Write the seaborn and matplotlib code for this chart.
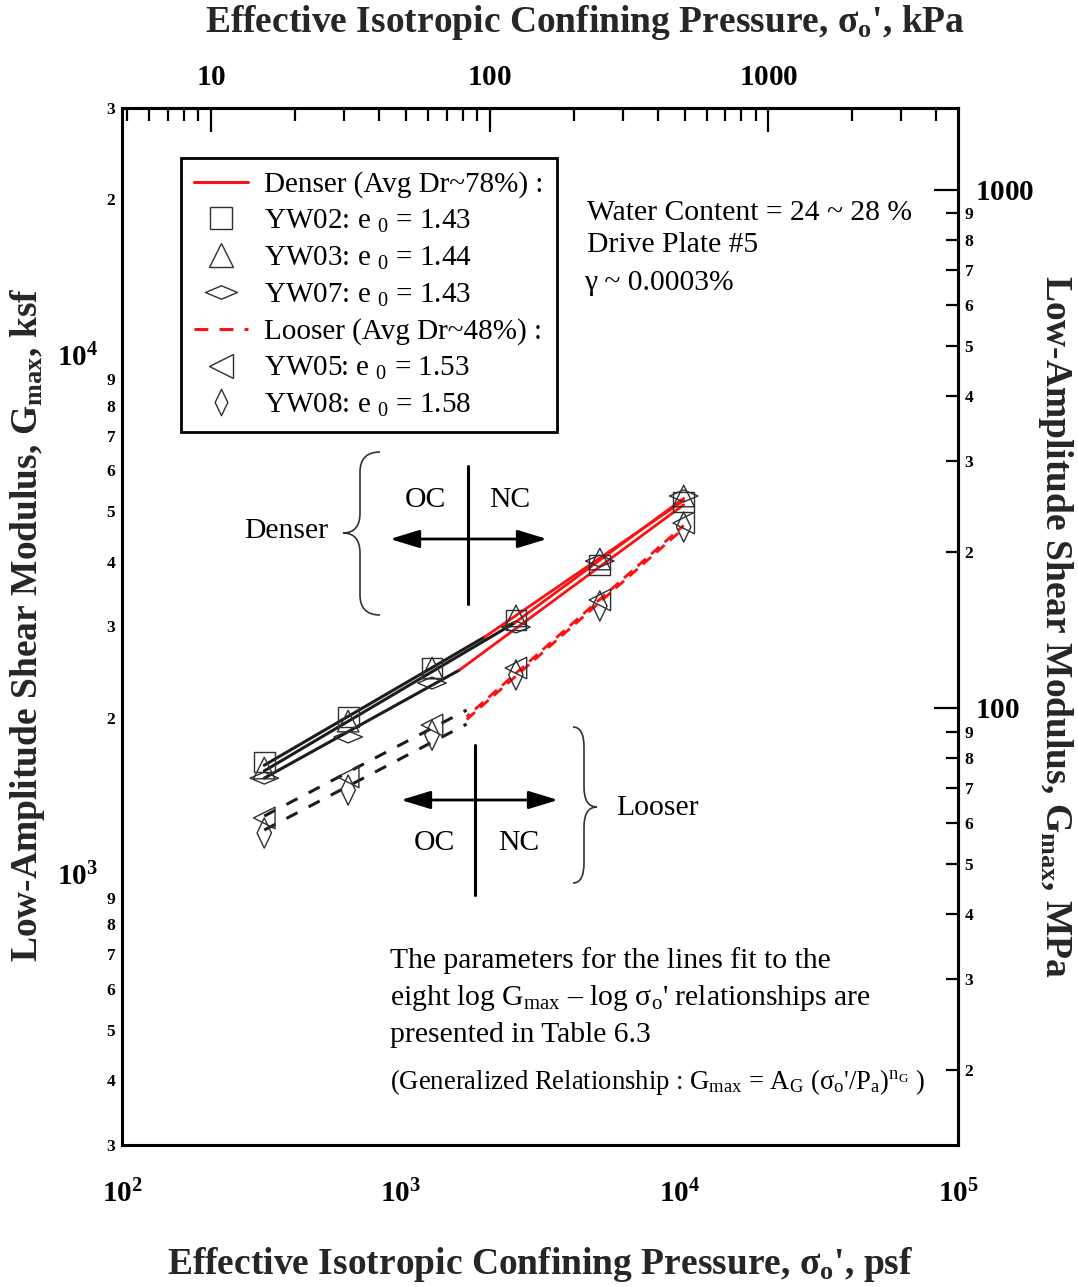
import matplotlib
matplotlib.use("Agg")
import numpy as np
import pandas as pd
import matplotlib.pyplot as plt
import seaborn as sns
from matplotlib.lines import Line2D
from matplotlib.path import Path
from matplotlib.patches import PathPatch
from matplotlib.ticker import FixedLocator, FixedFormatter, NullFormatter

# ---------------------------------------------------------------- data
# Effective isotropic confining pressure at each test stage (psf)
pressure_psf = [324, 648, 1296, 2592, 5184, 10368]

# Measured low-amplitude shear modulus, Gmax (ksf)
gmax_yw02 = [1644, 2007, 2495, 3087, 3941, 5215]
gmax_yw03 = [1600, 1971, 2495, 3144, 4048, 5356]
gmax_yw07 = [1530, 1837, 2334, 2993, 4012, 5356]
gmax_yw05 = [1282, 1538, 1937, 2495, 3375, 4750]
gmax_yw08 = [1199, 1451, 1852, 2419, 3286, 4667]

specimens = ["YW02", "YW03", "YW07", "YW05", "YW08"]
void_ratio = ["1.43", "1.44", "1.43", "1.53", "1.58"]
density_group = ["Denser", "Denser", "Denser", "Looser", "Looser"]
gmax_values = [gmax_yw02, gmax_yw03, gmax_yw07, gmax_yw05, gmax_yw08]

# Fitted log Gmax - log sigma lines: OC branch up to the break pressure, NC branch after it
fit_p_start = 324
fit_p_end = 10368
fit_p_break = [2000, 2560, 1626, 1725, 1725]
fit_oc_start = [1620, 1580, 1530, 1293, 1215]
fit_oc_end = [2863, 3047, 2473, 2070, 1945]
fit_nc_start = [2863, 3047, 2473, 2010, 1985]
fit_nc_end = [5250, 5300, 5150, 4700, 4640]

# Axis ticks
x_major = [1e2, 1e3, 1e4, 1e5]
x_major_labels = ["2", "3", "4", "5"]
y_major = [1e3, 1e4]
y_major_labels = ["3", "4"]
y_minor = [300, 400, 500, 600, 700, 800, 900,
           2000, 3000, 4000, 5000, 6000, 7000, 8000, 9000, 20000, 30000]
y_minor_labels = ["3", "4", "5", "6", "7", "8", "9",
                  "2", "3", "4", "5", "6", "7", "8", "9", "2", "3"]
kpa_major = [10, 100, 1000]
kpa_major_labels = ["10", "100", "1000"]
kpa_minor = [5, 6, 7, 8, 9, 20, 30, 40, 50, 60, 70, 80, 90,
             200, 300, 400, 500, 600, 700, 800, 900, 2000, 3000, 4000]
mpa_major = [100, 1000]
mpa_major_labels = ["100", "1000"]
mpa_minor = [20, 30, 40, 50, 60, 70, 80, 90, 200, 300, 400, 500, 600, 700, 800, 900]
mpa_minor_labels = ["2", "3", "4", "5", "6", "7", "8", "9",
                    "2", "3", "4", "5", "6", "7", "8", "9"]

KSF_TO_MPA = 0.04788
PSF_TO_KPA = 0.04788

# ---------------------------------------------------------------- style
sns.set_theme(style="white")
plt.rcParams.update({
    "font.family": ["Liberation Serif", "DejaVu Serif"],
    "mathtext.fontset": "custom",
    "mathtext.rm": "Liberation Serif",
    "mathtext.it": "Liberation Serif:italic",
    "mathtext.bf": "Liberation Serif:bold",
    "lines.scale_dashes": False,
    "axes.edgecolor": "black",
    "axes.linewidth": 2.2,
    "text.color": "black",
    "xtick.color": "black",
    "ytick.color": "black",
})

RED = "#ff1010"
EDGE = "#303030"
wide_diamond = Path([(-1, 0), (0, 0.42), (1, 0), (0, -0.42), (-1, 0)], closed=True)
tall_diamond = Path([(0, -1), (0.48, 0), (0, 1), (-0.48, 0), (0, -1)], closed=True)
markers = ["s", "^", wide_diamond, "<", tall_diamond]
marker_area = [225, 240, 420, 240, 470]
legend_marker_size = [16, 17, 23, 17, 19]

fig = plt.figure(figsize=(10.78, 12.87), dpi=100)
AX_L, AX_R, AX_T, AX_B = 122, 958, 108, 1145
W, H = 1078, 1287
ax = fig.add_axes([AX_L / W, 1 - AX_B / H, (AX_R - AX_L) / W, (AX_B - AX_T) / H])
ax.set_xscale("log")
ax.set_yscale("log")


def frac(x, y):
    """Figure pixel position -> axes fraction."""
    return (x - AX_L) / (AX_R - AX_L), (AX_B - y) / (AX_B - AX_T)


# ---------------------------------------------------------------- fitted lines
for i, name in enumerate(specimens):
    looser = density_group[i] == "Looser"
    oc = pd.DataFrame({"p": [fit_p_start, fit_p_break[i]],
                       "g": [fit_oc_start[i], fit_oc_end[i]]})
    nc = pd.DataFrame({"p": [fit_p_break[i], fit_p_end],
                       "g": [fit_nc_start[i], fit_nc_end[i]]})
    sns.lineplot(data=oc, x="p", y="g", ax=ax, color="#1c1c1c", lw=2.2,
                 linestyle=(0, (9, 9)) if looser else "-", legend=False)
    sns.lineplot(data=nc, x="p", y="g", ax=ax, color=RED, lw=2.0,
                 linestyle=(i % 2 * 5, (8, 5)) if looser else "-", legend=False)

# ---------------------------------------------------------------- measured points
for i, name in enumerate(specimens):
    pts = pd.DataFrame({"p": pressure_psf, "g": gmax_values[i]})
    sns.scatterplot(data=pts, x="p", y="g", ax=ax, marker=markers[i],
                    s=marker_area[i], facecolor="none", edgecolor=EDGE,
                    linewidth=1.0, zorder=3, legend=False)

ax.set_xlim(1e2, 1e5)
ax.set_ylim(300, 30000)

# ---------------------------------------------------------------- ticks
bf = lambda s: r"$\mathbf{%s}$" % s
ax.xaxis.set_major_locator(FixedLocator(x_major))
ax.xaxis.set_major_formatter(FixedFormatter([bf("10^{%s}" % e) for e in x_major_labels]))
ax.xaxis.set_minor_locator(FixedLocator([k * 10 ** e for e in (2, 3, 4) for k in range(2, 10)]))
ax.xaxis.set_minor_formatter(NullFormatter())
ax.yaxis.set_major_locator(FixedLocator(y_major))
ax.yaxis.set_major_formatter(FixedFormatter([bf("10^{%s}" % e) for e in y_major_labels]))
ax.yaxis.set_minor_locator(FixedLocator(y_minor))
ax.yaxis.set_minor_formatter(FixedFormatter([bf(s) for s in y_minor_labels]))

ax.tick_params(which="both", direction="in", top=False, right=False, width=1.6)
ax.tick_params(which="major", length=17)
ax.tick_params(which="minor", length=9)
ax.tick_params(axis="x", which="major", pad=25, labelsize=21)
ax.tick_params(axis="y", which="major", pad=17, labelsize=21)
ax.tick_params(axis="y", which="minor", pad=4, labelsize=12.5)

secx = ax.secondary_xaxis("top", functions=(lambda v: v * PSF_TO_KPA, lambda v: v / PSF_TO_KPA))
secx.xaxis.set_major_locator(FixedLocator(kpa_major))
secx.xaxis.set_major_formatter(FixedFormatter([bf(s) for s in kpa_major_labels]))
secx.xaxis.set_minor_locator(FixedLocator(kpa_minor))
secx.xaxis.set_minor_formatter(NullFormatter())
secx.tick_params(which="both", direction="in", width=1.6)
secx.tick_params(which="major", length=17, pad=12, labelsize=21)
secx.tick_params(which="minor", length=9)

secy = ax.secondary_yaxis("right", functions=(lambda v: v * KSF_TO_MPA, lambda v: v / KSF_TO_MPA))
secy.yaxis.set_major_locator(FixedLocator(mpa_major))
secy.yaxis.set_major_formatter(FixedFormatter([bf(s) for s in mpa_major_labels]))
secy.yaxis.set_minor_locator(FixedLocator(mpa_minor))
secy.yaxis.set_minor_formatter(FixedFormatter([bf(s) for s in mpa_minor_labels]))
secy.tick_params(which="both", direction="in", width=1.6)
secy.tick_params(which="major", length=17, pad=12, labelsize=21)
secy.tick_params(which="minor", length=9, pad=4, labelsize=12.5)

# ---------------------------------------------------------------- axis titles
title_kw = dict(fontsize=27, fontweight="bold")
ax.set_xlabel(r"Effective Isotropic Confining Pressure, σ$_\mathbf{o}$', psf", **title_kw)
ax.xaxis.set_label_coords(*frac(540, 1265), transform=ax.transAxes)
ax.xaxis.label.set_va("center")
secx.set_xlabel(r"Effective Isotropic Confining Pressure, σ$_\mathbf{o}$', kPa", **title_kw)
secx.xaxis.set_label_coords(*frac(585, 22), transform=ax.transAxes)
secx.xaxis.label.set_va("center")
ax.set_ylabel(r"Low-Amplitude Shear Modulus, G$_\mathbf{max}$, ksf", **title_kw)
ax.yaxis.set_label_coords(*frac(28, 625), transform=ax.transAxes)
ax.yaxis.label.set_va("center")
secy.set_ylabel(r"Low-Amplitude Shear Modulus, G$_\mathbf{max}$, MPa", rotation=270, **title_kw)
secy.yaxis.set_label_coords(*frac(1055, 626), transform=ax.transAxes)
secy.yaxis.label.set_va("center")

# ---------------------------------------------------------------- legend
handles = [Line2D([], [], color=RED, lw=2.2)]
labels = ["Denser (Avg Dr~78%) :"]
for i in range(3):
    handles.append(Line2D([], [], ls="none", marker=markers[i], markersize=legend_marker_size[i],
                          mfc="none", mec=EDGE, mew=1.0))
    labels.append(r"%s: e $_0$ = %s" % (specimens[i], void_ratio[i]))
handles.append(Line2D([], [], color=RED, lw=2.2, linestyle=(0, (10, 8))))
labels.append("Looser (Avg Dr~48%) :")
for i in range(3, 5):
    handles.append(Line2D([], [], ls="none", marker=markers[i], markersize=legend_marker_size[i],
                          mfc="none", mec=EDGE, mew=1.0))
    labels.append(r"%s: e $_0$ = %s" % (specimens[i], void_ratio[i]))
leg = ax.legend(handles, labels, loc="upper left", bbox_to_anchor=frac(181, 158),
                borderaxespad=0, frameon=True, fancybox=False, framealpha=1,
                edgecolor="black", fontsize=21, labelspacing=0.33,
                handlelength=1.85, handletextpad=0.55, borderpad=0.45)
leg.get_frame().set_linewidth(2.0)

# ---------------------------------------------------------------- annotations
txt = dict(transform=ax.transAxes, fontsize=21.3, color="black")
ax.text(*frac(587, 213), "Water Content = 24 ~ 28 %", ha="left", va="center", **txt)
ax.text(*frac(587, 245), "Drive Plate #5", ha="left", va="center", **txt)
ax.text(*frac(584, 283), "γ ~ 0.0003%", ha="left", va="center", **txt)

ax.text(*frac(390, 961), "The parameters for the lines fit to the", ha="left", va="center", **txt)
ax.text(*frac(390, 998), r"eight log G$_\mathrm{max}$ – log σ$_\mathrm{o}$' relationships are",
        ha="left", va="center", **txt)
ax.text(*frac(390, 1035), "presented in Table 6.3", ha="left", va="center", **txt)
ax.text(*frac(390, 1082),
        r"(Generalized Relationship : G$_\mathrm{max}$ = A$_\mathrm{G}$ "
        r"(σ$_\mathrm{o}$'/P$_\mathrm{a}$)$^{\mathrm{n}_\mathrm{G}}$ )",
        ha="left", va="center", transform=ax.transAxes, fontsize=19.2)


def brace(x_tip, x_body, x_end, y_top, y_tip, y_bot, r=20):
    pts = [(x_end, y_top), (x_body, y_top), (x_body, y_top + r),
           (x_body, y_tip - r), (x_body, y_tip), (x_tip, y_tip),
           (x_body, y_tip), (x_body, y_tip + r),
           (x_body, y_bot - r), (x_body, y_bot), (x_end, y_bot)]
    codes = [Path.MOVETO, Path.CURVE3, Path.CURVE3, Path.LINETO, Path.CURVE3,
             Path.CURVE3, Path.CURVE3, Path.CURVE3, Path.LINETO, Path.CURVE3, Path.CURVE3]
    verts = [frac(x, y) for x, y in pts]
    ax.add_patch(PathPatch(Path(verts, codes), transform=ax.transAxes,
                           fill=False, lw=1.2, edgecolor="#333333"))


def oc_nc_cross(x_arrow0, x_arrow1, y_arrow, x_vert, y_vert0, y_vert1, y_text):
    ax.add_line(Line2D([frac(x_vert, y_vert0)[0], frac(x_vert, y_vert1)[0]],
                       [frac(x_vert, y_vert0)[1], frac(x_vert, y_vert1)[1]],
                       transform=ax.transAxes, color="black", lw=2.2))
    ax.annotate("", xy=frac(x_arrow1, y_arrow), xytext=frac(x_arrow0, y_arrow),
                xycoords="axes fraction", textcoords="axes fraction",
                arrowprops=dict(arrowstyle="<|-|>,head_length=1.8,head_width=0.55",
                                mutation_scale=10, lw=2.0, color="black",
                                shrinkA=0, shrinkB=0))
    ax.text(*frac((x_arrow0 + x_vert) / 2 - 4, y_text), "OC", ha="center", va="center", **txt)
    ax.text(*frac((x_arrow1 + x_vert) / 2 + 2, y_text), "NC", ha="center", va="center", **txt)


# Denser group marker
ax.text(*frac(286, 531), "Denser", ha="center", va="center", **txt)
brace(343, 360, 380, 452, 533, 615)
oc_nc_cross(390, 547, 539, 468, 466, 604, 500)

# Looser group marker
ax.text(*frac(657, 808), "Looser", ha="center", va="center", **txt)
brace(597, 584, 573, 727, 807, 883)
oc_nc_cross(401, 558, 800, 475, 745, 895, 843)

fig.savefig("out.png", dpi=100)
